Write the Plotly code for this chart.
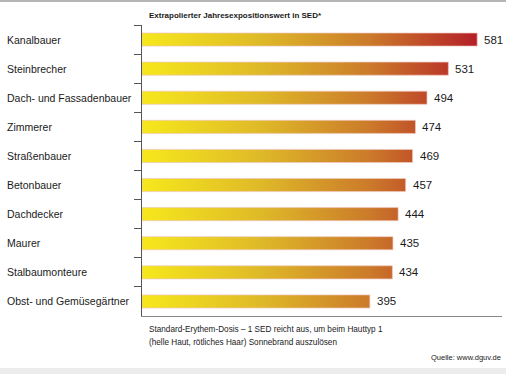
import plotly.graph_objects as go

categories = ["Kanalbauer", "Steinbrecher", "Dach- und Fassadenbauer", "Zimmerer",
              "Straßenbauer", "Betonbauer", "Dachdecker", "Maurer",
              "Stalbaumonteure", "Obst- und Gemüsegärtner"]
values = [581, 531, 494, 474, 469, 457, 444, 435, 434, 395]

title_text = "Extrapolierter Jahresexpositionswert in SED*"
footnote_lines = ["Standard-Erythem-Dosis – 1 SED reicht aus, um beim Hauttyp 1",
                  "(helle Haut, rötliches Haar) Sonnebrand auszulösen"]
source_text = "Quelle: www.dguv.de"

FONT = "Liberation Sans, Arial, sans-serif"
TXT = "#1a1a1a"
half = 0.225
gmax = max(values)
cscale = [[0.0, "#f6e81c"], [0.35, "#dfba28"], [0.68, "#cb7a2a"], [1.0, "#b41f28"]]

L, R, T, B = 142, 4, 25, 58
PW, PH = 506 - L - R, 374 - T - B

fig = go.Figure()
for i, (c, v) in enumerate(zip(categories, values)):
    fig.add_trace(go.Scatter(
        x=[0, v, v, 0, 0], y=[i - half, i - half, i + half, i + half, i - half],
        mode="lines", fill="toself",
        line=dict(color="rgba(240,200,190,0.7)", width=1),
        fillgradient=dict(type="horizontal", colorscale=cscale, start=0, stop=gmax),
        hoverinfo="skip", showlegend=False))

annotations = []
for i, v in enumerate(values):
    annotations.append(dict(xref="x", yref="y", x=v, y=i, text=str(v), xshift=5,
                            xanchor="left", yanchor="middle", showarrow=False,
                            font=dict(family=FONT, size=11.5, color=TXT)))
for i, c in enumerate(categories):
    annotations.append(dict(xref="paper", yref="y", x=-(L - 5) / PW, y=i, text=c,
                            xanchor="left", yanchor="middle", showarrow=False,
                            font=dict(family=FONT, size=10.5, color=TXT)))
annotations.append(dict(xref="paper", yref="paper", x=5 / PW, y=1.0, yshift=3,
                        text="<b>" + title_text + "</b>", xanchor="left", yanchor="bottom",
                        showarrow=False, font=dict(family=FONT, size=8, color=TXT)))
for k, line in enumerate(footnote_lines):
    annotations.append(dict(xref="paper", yref="paper", x=5 / PW, y=0,
                            yshift=-(13 + 13 * k), text=line, xanchor="left",
                            yanchor="middle", showarrow=False,
                            font=dict(family=FONT, size=8.2, color=TXT)))
annotations.append(dict(xref="paper", yref="paper", x=1.0, y=0, yshift=-41, xshift=1,
                        text=source_text, xanchor="right", yanchor="middle",
                        showarrow=False, font=dict(family=FONT, size=7.5, color=TXT)))

fig.update_layout(
    width=506, height=374,
    margin=dict(l=L, r=R, t=T, b=B, autoexpand=False),
    paper_bgcolor="white", plot_bgcolor="white",
    xaxis=dict(range=[0, 624 * PW / 360], showgrid=False, zeroline=False,
               showticklabels=False, ticks="", showline=True, linecolor="#888",
               linewidth=1, fixedrange=True, automargin=False),
    yaxis=dict(range=[len(values) - 0.5, -0.5], showgrid=False, zeroline=False,
               showticklabels=False, showline=True, linecolor="#555", linewidth=1,
               ticks="outside", ticklen=7, tickcolor="#555", automargin=False,
               tickvals=[k - 0.5 for k in range(len(values))], fixedrange=True),
    annotations=annotations,
    shapes=[
        dict(type="line", xref="paper", yref="paper", x0=-L / PW, x1=1 + R / PW,
             y0=1 + (T - 1) / PH, y1=1 + (T - 1) / PH, line=dict(color="#b5b5b5", width=2)),
        dict(type="rect", xref="paper", yref="paper", x0=-L / PW, x1=1 + R / PW,
             y0=-B / PH, y1=-(B - 6) / PH, fillcolor="#ececec", line=dict(width=0)),
    ],
)

fig.write_html("out.html", config={"displayModeBar": False},
               post_script="document.body.style.margin='0';document.body.style.padding='0';")
